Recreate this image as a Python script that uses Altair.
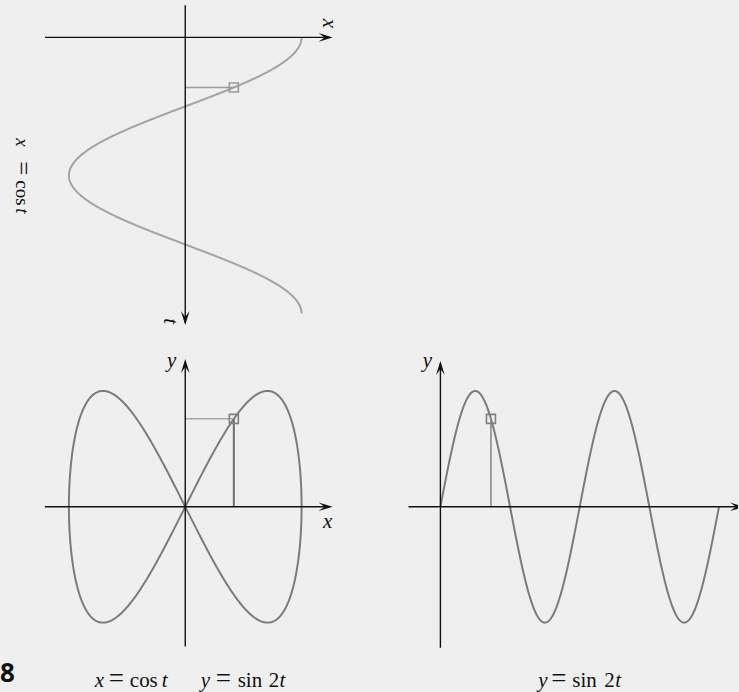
import altair as alt
import numpy as np
import pandas as pd

# ---- data -------------------------------------------------------------
# parameter t runs over one full turn; the curves are x = cos t, y = sin 2t
t_values = np.linspace(0.0, 2.0 * np.pi, 721)
x_values = np.cos(t_values)
y_values = np.sin(2.0 * t_values)

# the highlighted parameter value
t_marker = [1.14]

curve = pd.DataFrame({"t": t_values, "x": x_values, "y": y_values})
marker = pd.DataFrame({"t": t_marker})
marker["x"] = np.cos(marker["t"])
marker["y"] = np.sin(2.0 * marker["t"])
marker["zero"] = 0.0

# ---- styling ----------------------------------------------------------
BG = "#efefef"
AXIS = "#111111"
SERIF = "Liberation Serif"
FS = 21
EQ_FS = 27          # the equals sign is set wider than the letters
# arrowhead with its tip at the symbol origin, pointing right
ARROW = "M0,0 L-2,-0.62 L-1.15,0 L-2,0.62 Z"
# the same arrowhead with its point cut off by the right-hand edge
ARROW_CUT = "M-0.857,-0.266 L-2,-0.62 L-1.15,0 L-2,0.62 L-0.857,0.266 Z"

W_LEFT, W_RIGHT = 370, 369
H_TOP, H_BOT = 330, 362


def span(origin_px, unit_px, size_px):
    """Domain so that value 0 sits at origin_px and one unit spans unit_px."""
    return [-origin_px / unit_px, (size_px - origin_px) / unit_px]


def span_up(origin_px, unit_px, size_px):
    """Vertical domain (values grow upward) with 0 at origin_px from the top."""
    return [(origin_px - size_px) / unit_px, origin_px / unit_px]


def lin(domain, reverse=False):
    return alt.Scale(domain=domain, nice=False, zero=False, reverse=reverse)


one = pd.DataFrame({"k": [0]})


def label(text, x, y, italic=True, size=FS, angle=0, align="left",
          baseline="alphabetic", font=SERIF, weight="normal"):
    return alt.Chart(one).mark_text(
        text=text, font=font, fontSize=size, fontStyle="italic" if italic else "normal",
        fontWeight=weight, angle=angle, align=align, baseline=baseline, color="#111111",
    ).encode(x=alt.value(x), y=alt.value(y))


def equals(x, y, angle=0, size=EQ_FS):
    return label("=", x, y, italic=False, size=size, angle=angle)


def rules(df, sx, sy, color=AXIS, width=1.4):
    return alt.Chart(df).mark_rule(color=color, strokeWidth=width).encode(
        x=alt.X("x1:Q", scale=sx, axis=None), x2="x2:Q",
        y=alt.Y("y1:Q", scale=sy, axis=None), y2="y2:Q",
    )


def arrows(df, sx, sy, shape=ARROW):
    return alt.Chart(df).mark_point(
        shape=shape, filled=True, color=AXIS, size=196, opacity=1, strokeWidth=0
    ).encode(
        x=alt.X("x:Q", scale=sx, axis=None),
        y=alt.Y("y:Q", scale=sy, axis=None),
        angle=alt.Angle("a:Q", scale=None),
    )


def square(xf, yf, sx, sy, color):
    return alt.Chart(marker).mark_point(
        shape="square", filled=False, size=81, strokeWidth=1.6, color=color, opacity=1
    ).encode(x=alt.X(xf, scale=sx, axis=None), y=alt.Y(yf, scale=sy, axis=None))


# ---- top panel: x = cos t with t pointing down --------------------------
sxA = lin(span(185.5, 116.5, W_LEFT))
stA = lin(span(37, 44, H_TOP), reverse=True)

a_curve = alt.Chart(curve).mark_line(color="#a3a3a3", strokeWidth=2).encode(
    x=alt.X("x:Q", scale=sxA, axis=None),
    y=alt.Y("t:Q", scale=stA, axis=None),
    order="t:Q",
)
a_axes = rules(pd.DataFrame({"x1": [-1.206, 0.0], "x2": [1.24, 0.0],
                             "y1": [0.0, -0.73], "y2": [0.0, 6.5]}), sxA, stA)
a_arrows = arrows(pd.DataFrame({"x": [1.266, 0.0], "y": [0.0, 6.545], "a": [0, 90]}), sxA, stA)
a_guide = alt.Chart(marker).mark_rule(color="#9c9c9c", strokeWidth=1.5).encode(
    x=alt.X("zero:Q", scale=sxA, axis=None), x2="x:Q",
    y=alt.Y("t:Q", scale=stA, axis=None),
)
a_square = square("x:Q", "t:Q", sxA, stA, "#9a9a9a")

ROT_FS = 19
panel_a = alt.layer(
    a_curve, a_guide, a_axes, a_arrows, a_square,
    label("x", 323, 23, angle=90, align="center"),
    label("t", 164, 321, angle=90, align="center"),
    label("x", 16, 138, angle=90, size=ROT_FS),
    equals(15, 161, angle=90, size=25),
    label("cos", 16, 180, italic=False, angle=90, size=ROT_FS),
    label("t", 16, 208, angle=90, size=ROT_FS),
).properties(width=W_LEFT, height=H_TOP)

# ---- bottom left: the parametric curve ---------------------------------
sxB = lin(span(185.5, 116.5, W_LEFT))
syB = lin(span_up(177, 116, H_BOT))

b_curve = alt.Chart(curve).mark_line(color="#7b7b7b", strokeWidth=2).encode(
    x=alt.X("x:Q", scale=sxB, axis=None),
    y=alt.Y("y:Q", scale=syB, axis=None),
    order="t:Q",
)
b_axes = rules(pd.DataFrame({"x1": [-1.206, 0.0], "x2": [1.24, 0.0],
                             "y1": [0.0, -1.207], "y2": [0.0, 1.25]}), sxB, syB)
b_arrows = arrows(pd.DataFrame({"x": [1.266, 0.0], "y": [0.0, 1.276], "a": [0, 270]}), sxB, syB)
b_hguide = alt.Chart(marker).mark_rule(color="#a8a8a8", strokeWidth=1.5).encode(
    x=alt.X("zero:Q", scale=sxB, axis=None), x2="x:Q",
    y=alt.Y("y:Q", scale=syB, axis=None),
)
b_vguide = alt.Chart(marker).mark_rule(color="#6e6e6e", strokeWidth=2).encode(
    x=alt.X("x:Q", scale=sxB, axis=None),
    y=alt.Y("zero:Q", scale=syB, axis=None), y2="y:Q",
)
b_square = square("x:Q", "y:Q", sxB, syB, "#808080")

CAP_Y = 357
panel_b = alt.layer(
    b_curve, b_hguide, b_vguide, b_axes, b_arrows, b_square,
    label("y", 172, 37, align="center"),
    label("x", 328, 198, align="center"),
    label("x", 95, CAP_Y),
    equals(109, CAP_Y),
    label("cos", 130, CAP_Y, italic=False),
    label("t", 162, CAP_Y),
    label("y", 201, CAP_Y),
    equals(216, CAP_Y),
    label("sin", 238, CAP_Y, italic=False),
    label("2", 269, CAP_Y, italic=False),
    label("t", 280, CAP_Y),
    label("8", 0, 352, italic=False, size=26, font="Open Sans", weight="bold"),
).properties(width=W_LEFT, height=H_BOT)

# ---- bottom right: y = sin 2t against t ---------------------------------
t_span = span(71, 44.4, W_RIGHT)
stC = lin(t_span)
syC = lin(span_up(177, 116, H_BOT))

c_curve = alt.Chart(curve).mark_line(color="#7b7b7b", strokeWidth=2).encode(
    x=alt.X("t:Q", scale=stC, axis=None),
    y=alt.Y("y:Q", scale=syC, axis=None),
)
c_axes = rules(pd.DataFrame({"x1": [-0.72, 0.0], "x2": [t_span[1], 0.0],
                             "y1": [0.0, -1.216], "y2": [0.0, 1.235]}), stC, syC)
c_arrow_up = arrows(pd.DataFrame({"x": [0.0], "y": [1.259], "a": [270]}), stC, syC)
c_arrow_right = arrows(pd.DataFrame({"x": [6.847], "y": [0.0], "a": [0]}), stC, syC,
                       shape=ARROW_CUT)
c_vguide = alt.Chart(marker).mark_rule(color="#8a8a8a", strokeWidth=1.6).encode(
    x=alt.X("t:Q", scale=stC, axis=None),
    y=alt.Y("zero:Q", scale=syC, axis=None), y2="y:Q",
)
c_square = square("t:Q", "y:Q", stC, syC, "#808080")

panel_c = alt.layer(
    c_curve, c_vguide, c_axes, c_arrow_up, c_arrow_right, c_square,
    label("y", 58, 37, align="center"),
    label("y", 169, CAP_Y),
    equals(182, CAP_Y),
    label("sin", 203, CAP_Y, italic=False),
    label("2", 235, CAP_Y, italic=False),
    label("t", 246, CAP_Y),
).properties(width=W_RIGHT, height=H_BOT)

chart = alt.vconcat(
    panel_a,
    alt.hconcat(panel_b, panel_c, spacing=0, bounds="flush"),
    spacing=0,
    bounds="flush",
).properties(padding=0, background=BG).configure_view(stroke=None)

chart.save("out.html", embed_options={"renderer": "svg", "actions": False})
